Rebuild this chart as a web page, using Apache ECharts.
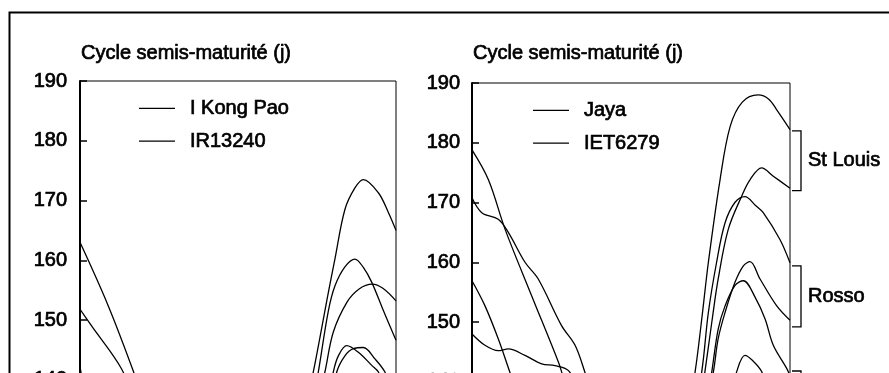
<!DOCTYPE html>
<html>
<head>
<meta charset="utf-8">
<script src="https://cdn.jsdelivr.net/npm/echarts@6/dist/echarts.min.js"></script>
<style>
html,body{margin:0;padding:0;background:#fff;overflow:hidden;}
#c{width:889px;height:373px;}
</style>
</head>
<body>
<div id="c"></div>
<script>
// ---------- data ----------
const panelTitle = 'Cycle semis-maturité (j)';
const yMin = 130, yMax = 190, yStep = 10;
const xMin = 0, xMax = 12; // sowing month (axis itself lies below the visible crop)

const leftVarieties = ['I Kong Pao', 'IR13240'];
const rightVarieties = ['Jaya', 'IET6279'];

// left panel curves [month, days]
const left1 = [[0,163.0],[1.07,152.4],[2.02,141.5],[2.6,134],[3.5,127],[6,122],[8.3,130],[8.86,141.3],[9.43,154.6],[9.68,160.2],[10.06,168.5],[10.44,172.1],[10.76,173.5],[11.33,171.3],[11.71,168.0],[12,165.0]];
const left2 = [[0,151.8],[0.44,149.0],[1.58,141.8],[2.2,135],[3.5,126],[6,120],[8.7,130],[9.30,141.3],[9.62,148.0],[10.14,153.0],[10.6,155.2],[11.1,156.0],[11.5,155.3],[12,153.2]];
const left3 = [[0,142.2],[0.3,136],[1,128],[3,122],[6,118],[8.6,130],[9.05,141.3],[9.43,151.5],[9.68,155.7],[10.06,158.9],[10.44,160.2],[10.76,158.8],[11.08,156.3],[11.5,151.8],[12,146.6]];
const left4 = [[0,135],[1,128],[4,120],[7,118],[9.3,132],[9.75,141.3],[10.06,144.0],[10.38,145.2],[10.76,145.4],[11.20,143.5],[11.58,141.3],[12,137]];
const left5 = [[0,132],[1,125],[4,118],[7,116],[9.2,132],[9.62,141.3],[9.81,144.0],[10.13,145.7],[10.57,144.6],[11.08,142.4],[11.33,141.3],[12,135]];

// right panel curves [month, days]
const right1 = [[0,178.8],[0.62,173.8],[1.25,165.5],[2.25,154.4],[3.26,143.3],[3.6,139],[5,128],[7,125],[7.9,128],[8.42,141.7],[8.67,150.5],[8.92,160.0],[9.36,173.8],[9.74,182.7],[10.2,186.8],[10.80,188.0],[11.2,187.3],[11.50,185.5],[12,182.2]];
const right2 = [[0,170.8],[0.37,168.3],[0.99,167.2],[1.37,165.0],[2.0,160.0],[2.5,157.2],[3.38,149.4],[3.89,146.1],[4.26,141.6],[4.6,137],[6,128],[7.8,126],[8.4,130],[8.79,141.7],[9.05,150.0],[9.29,157.2],[9.67,165.5],[10.18,171.1],[10.49,173.8],[10.93,175.8],[11.37,174.4],[12,172.4]];
const right3 = [[0,156.9],[0.49,152.7],[0.99,147.2],[1.43,141.6],[1.8,137],[3,128],[6,122],[8.2,130],[8.67,141.7],[8.92,151.6],[9.23,160.0],[9.55,166.6],[9.92,170.0],[10.30,171.0],[10.7,169.5],[10.99,168.3],[11.62,163.8],[12,159.9]];
const right4 = [[0,148.0],[0.49,146.1],[0.99,145.2],[1.37,145.5],[2.0,144.4],[2.63,143.0],[3.13,142.7],[3.63,141.9],[4.0,139],[5,132],[7,124],[8.6,130],[9.11,141.7],[9.29,147.2],[9.55,151.6],[9.92,156.6],[10.24,159.4],[10.49,160.1],[10.87,157.2],[11.50,152.7],[12,150.3]];
const right5 = [[0,137],[1,131],[4,122],[7,120],[8.7,132],[9.05,141.7],[9.29,148.8],[9.55,152.7],[9.92,156.1],[10.24,156.9],[10.7,154.0],[11.06,150.5],[11.37,146.1],[11.88,142.2],[12,141.0]];
const right6 = [[0,134],[1,128],[4,119],[7,117],[9.4,132],[9.99,141.7],[10.30,144.4],[10.6,143.5],[10.93,141.7],[11.3,137],[12,131]];

// site brackets on the right panel [low, high]
const sites = ['St Louis', 'Rosso', ''];
const siteRanges = [[172.0, 182.0], [149.2, 159.4], [128.0, 141.8]];

// ---------- chart ----------
const FONT = 'Liberation Sans, Arial, sans-serif';
const TEXT = {color: '#000', fontSize: 20, fontFamily: FONT, fontWeight: 'normal', textBorderColor: '#000', textBorderWidth: 0.7};
const chart = echarts.init(document.getElementById('c'), null, {renderer: 'canvas'});

function lineSeries(name, data, idx) {
  return {
    type: 'line', name: name, data: data,
    xAxisIndex: idx, yAxisIndex: idx,
    symbol: 'none', smooth: 0.35, clip: true,
    lineStyle: {color: '#000', width: 1.3},
    itemStyle: {color: '#000'}
  };
}

const series = [
  lineSeries(leftVarieties[0], left1, 0),
  lineSeries(leftVarieties[1], left2, 0),
  lineSeries(leftVarieties[0], left3, 0),
  lineSeries(leftVarieties[1], left4, 0),
  lineSeries(leftVarieties[0], left5, 0),
  lineSeries(rightVarieties[0], right1, 1),
  lineSeries(rightVarieties[1], right2, 1),
  lineSeries(rightVarieties[0], right3, 1),
  lineSeries(rightVarieties[1], right4, 1),
  lineSeries(rightVarieties[0], right5, 1),
  lineSeries(rightVarieties[1], right6, 1)
];

function yAxis(gridIndex, margin) {
  return {
    type: 'value', gridIndex: gridIndex, min: yMin, max: yMax, interval: yStep,
    axisLine: {show: true, lineStyle: {color: '#000', width: 2}},
    axisTick: {show: true, inside: true, length: 7, lineStyle: {color: '#000', width: 1.5}},
    axisLabel: Object.assign({margin: margin}, TEXT),
    splitLine: {show: false}
  };
}
function xAxis(gridIndex) {
  return {type: 'value', gridIndex: gridIndex, min: xMin, max: xMax, show: false, splitLine: {show: false}};
}
function legend(data, left, top) {
  return {
    data: data, orient: 'vertical', left: left, top: top,
    icon: 'rect', itemWidth: 36, itemHeight: 1.3, itemGap: 12, padding: 0,
    itemStyle: {color: '#000'},
    textStyle: Object.assign({padding: [0, 0, 0, 10]}, TEXT),
    selectedMode: false
  };
}

chart.setOption({
  animation: false,
  backgroundColor: '#fff',
  title: [
    {text: panelTitle, left: 81, top: 43, padding: 0, textStyle: TEXT},
    {text: panelTitle, left: 473, top: 43, padding: 0, textStyle: TEXT}
  ],
  legend: [legend(leftVarieties, 139, 98), legend(rightVarieties, 533, 100)],
  grid: [
    {left: 80, top: 81, width: 316, height: 358.5, outerBoundsMode: 'none', containLabel: false, show: true, borderColor: '#000', borderWidth: 1, backgroundColor: 'transparent'},
    {left: 472, top: 83, width: 318, height: 358.5, outerBoundsMode: 'none', containLabel: false, show: true, borderColor: '#000', borderWidth: 1, backgroundColor: 'transparent'}
  ],
  xAxis: [xAxis(0), xAxis(1)],
  yAxis: [yAxis(0, 13), yAxis(1, 12)],
  series: series
});

// frame and site brackets (positions derived from the axis scale)
const els = [{
  type: 'polyline', silent: true,
  shape: {points: [[9.5, 400], [9.5, 12.5], [900, 12.5]]},
  style: {stroke: '#000', lineWidth: 2, fill: 'none'}
}];
sites.forEach(function (name, i) {
  const lo = siteRanges[i][0], hi = siteRanges[i][1];
  const pTop = chart.convertToPixel({gridIndex: 1}, [xMax, hi]);
  const pBot = chart.convertToPixel({gridIndex: 1}, [xMax, lo]);
  const x0 = pTop[0] + 2, x1 = pTop[0] + 11;
  els.push({
    type: 'polyline', silent: true,
    shape: {points: [[x0, pTop[1]], [x1, pTop[1]], [x1, pBot[1]], [x0, pBot[1]]]},
    style: {stroke: '#000', lineWidth: 1.3, fill: 'none'}
  });
  if (name) {
    els.push({
      type: 'text', silent: true, x: x1 + 7, y: (pTop[1] + pBot[1]) / 2,
      style: {text: name, fontSize: 20, fontFamily: FONT, fill: '#000', stroke: '#000', lineWidth: 0.7, align: 'left', verticalAlign: 'middle'}
    });
  }
});
chart.setOption({graphic: {elements: els}});
</script>
</body>
</html>
